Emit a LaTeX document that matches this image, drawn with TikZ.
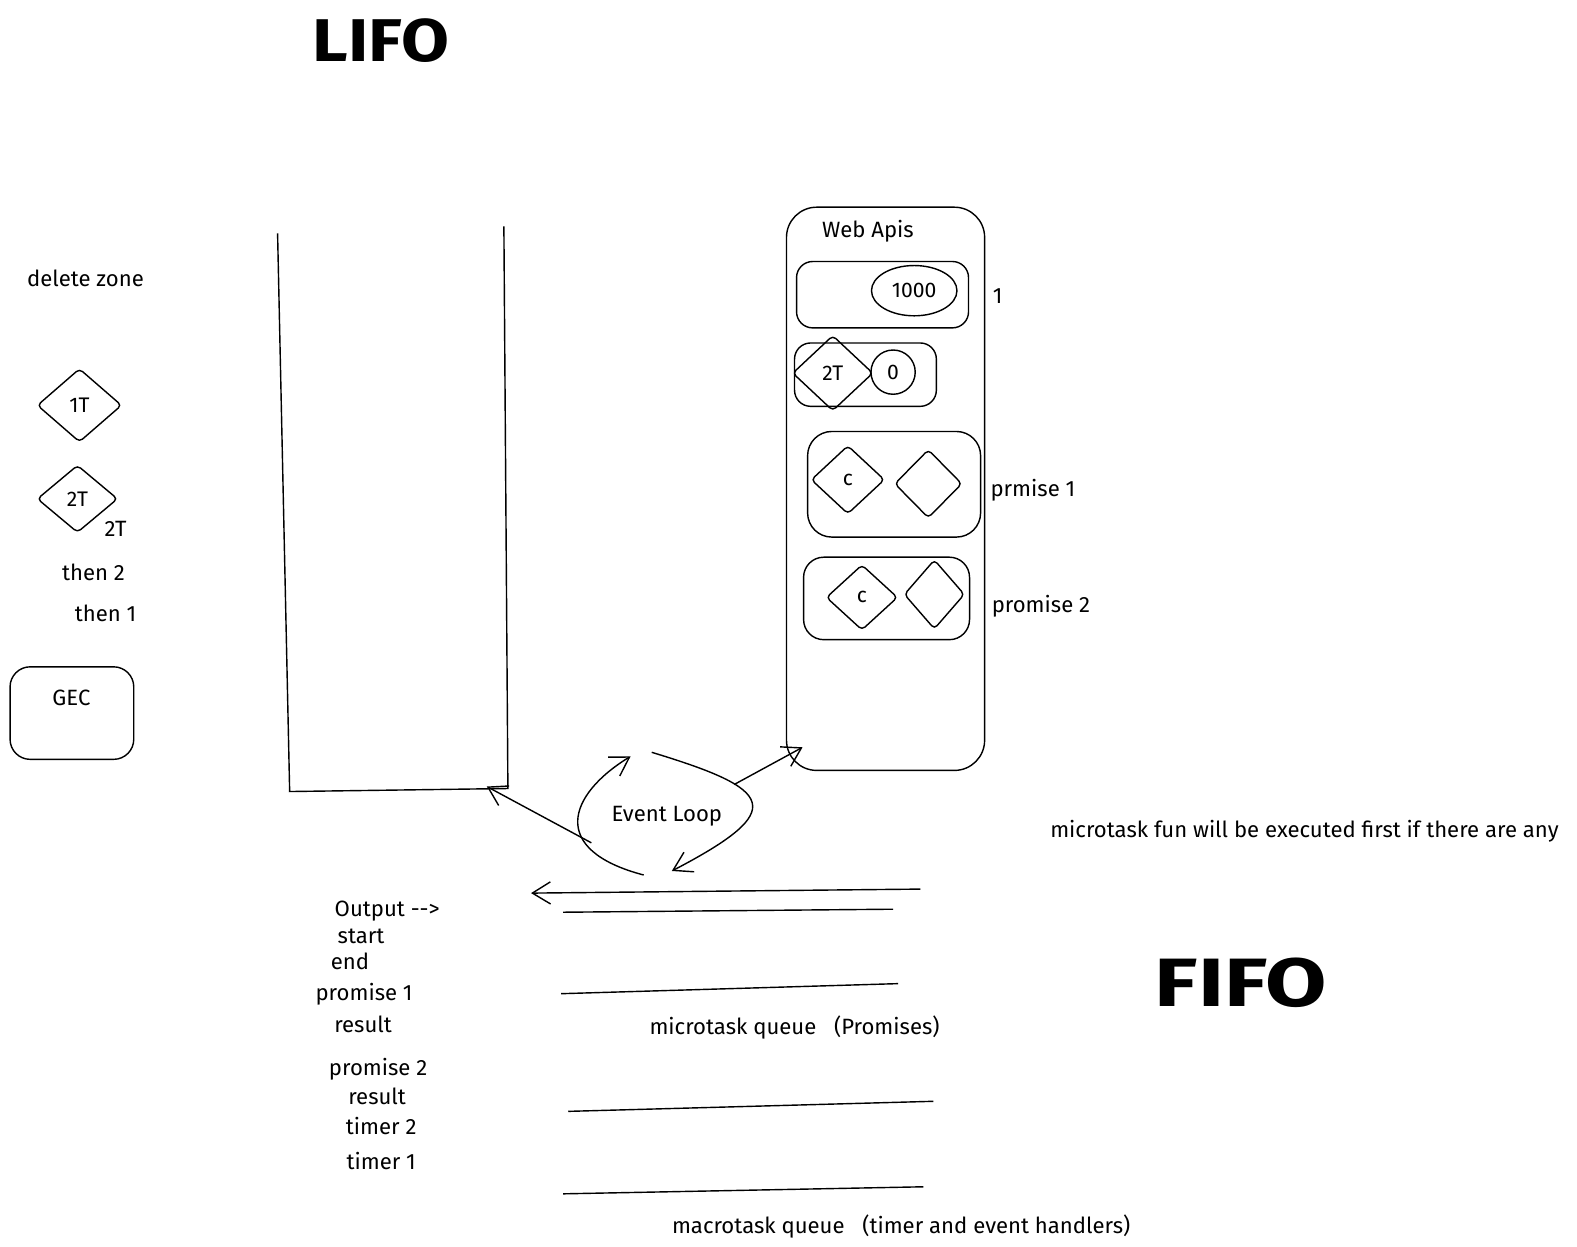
\documentclass[tikz,border=0pt]{standalone}
\usepackage{fontspec}
\setmainfont{Fira Sans}
\usetikzlibrary{arrows.meta, positioning, shapes.geometric}

\begin{document}
\begin{tikzpicture}[x=0.5pt, y=-0.5pt, line width=0.7pt,
    >={Straight Barb[length=9pt, width=11pt]},
    box/.style={draw, rounded corners=8pt, inner sep=0pt},
    token/.style={diamond, draw, rounded corners=2pt, inner sep=0pt, font=\fontsize{10.5}{12}\selectfont},
    note/.style={inner sep=1pt, yshift=-1pt, font=\fontsize{11}{13}\selectfont},
    big/.style={inner sep=0pt, font=\fontsize{30}{34}\selectfont\bfseries}
  ]
  \useasboundingbox (0,0) rectangle (1568,1239);

  % Headings
  \node[big] (lifo) at (379,40) {\scalebox{1.15}[1]{LIFO}};
  \node[big, font=\fontsize{34}{38}\selectfont\bfseries] (fifo) at (1234,977) {\scalebox{1.3}[1]{FIFO}};

  % Left column
  \node[note] (delzone) at (85,275) {delete zone};
  \node[token, minimum width=42pt, minimum height=36.5pt] (t1) at (79,403) {1T};
  \node[token, minimum width=40pt, minimum height=33.5pt] (t2) at (77,496) {2T};
  \node[note] (t2b) at (115,524) {2T};
  \node[note] (then2) at (93,567) {then 2};
  \node[note] (then1) at (105,608) {then 1};
  \node[box, rounded corners=10pt, minimum width=61.5pt, minimum height=46pt] (gec) at (71.5,709) {};
  \node[note] (geclbl) at (71,692) {GEC};

  % Call stack
  \coordinate (stTL) at (276,232);
  \coordinate (stBL) at (288,787);
  \coordinate (stBR) at (505,784);
  \coordinate (stTR) at (501,225);
  \coordinate (stIn) at (484,782);
  \draw (stTL) -- (stBL) -- (stBR) -- (stTR);

  % Web Apis
  \node[box, rounded corners=15pt, minimum width=98.5pt, minimum height=280pt] (webapis) at (880.5,486) {};
  \node[note] (webapislbl) at (863,228) {Web Apis};
  \coordinate (apiIn) at (798,743);

  \node[box, minimum width=85.5pt, minimum height=33pt] (timer1) at (877.5,293) {};
  \node[ellipse, draw, minimum width=42.5pt, minimum height=25pt, inner sep=0pt, font=\fontsize{10.5}{12}\selectfont] (ms) at (909,289) {1000};
  \node[note] (one) at (992,292) {1};

  \node[box, minimum width=70.5pt, minimum height=31.5pt] (timer2) at (860.5,372.5) {};
  \node[token, minimum width=40pt, minimum height=37.5pt] (t2w) at (828,371) {2T};
  \node[circle, draw, minimum size=22pt, inner sep=0pt, font=\fontsize{10.5}{12}\selectfont] (zero) at (888,370) {0};

  \node[box, rounded corners=12pt, minimum width=86pt, minimum height=52.5pt] (prom1) at (889,481.5) {};
  \node[token, minimum width=36.5pt, minimum height=34pt] (c1) at (843,477) {c};
  \node[token, minimum width=33.5pt, minimum height=34pt] (e1) at (923,481) {};
  \node[note] (prom1lbl) at (1027,485) {prmise 1};

  \node[box, rounded corners=10pt, minimum width=82.5pt, minimum height=41pt] (prom2) at (881.5,595) {};
  \node[token, minimum width=35.5pt, minimum height=32.5pt] (c2) at (857,594) {c};
  \node[token, minimum width=30pt, minimum height=34.5pt] (e2) at (929,591) {};
  \node[note] (prom2lbl) at (1035,601) {promise 2};

  % Event loop
  \node[note] (loop) at (663,810) {Event Loop};
  \coordinate (elA) at (640,870);
  \coordinate (elB) at (627,752);
  \coordinate (elC) at (648,748);
  \coordinate (elD) at (668,866);
  \coordinate (elE) at (588,838);
  \coordinate (elF) at (730,780);
  \draw[->] (elA) .. controls (545,845) and (565,790) .. (elB);
  \draw[->] (elC) .. controls (770,785) and (785,805) .. (elD);
  \draw[->] (elE) -- (stIn);
  \draw[->] (elF) -- (apiIn);

  % Queues
  \coordinate (mqA) at (915,884);
  \coordinate (mqB) at (528,888);
  \coordinate (mqC) at (560,907);
  \coordinate (mqD) at (888,904);
  \coordinate (mqE) at (558,988);
  \coordinate (mqF) at (893,978);
  \draw[->] (mqA) -- (mqB);
  \draw (mqC) -- (mqD);
  \draw (mqE) -- (mqF);
  \node[note] (mqlbl) at (790,1020) {microtask queue\hspace{0.8em}(Promises)};

  \coordinate (xqA) at (565,1105);
  \coordinate (xqB) at (928,1095);
  \coordinate (xqC) at (560,1187);
  \coordinate (xqD) at (918,1180);
  \draw (xqA) -- (xqB);
  \draw (xqC) -- (xqD);
  \node[note] (xqlbl) at (896,1217) {macrotask queue\hspace{0.8em}(timer and event handlers)};

  \node[note] (rule) at (1297,824) {microtask fun will be executed first if there are any};

  % Output
  \node[note] (out) at (385,904) {Output -{}->};
  \node[note] (o1) at (359,929) {start};
  \node[note] (o2) at (348,954) {end};
  \node[note] (o3) at (362,987) {promise 1};
  \node[note] (o4) at (361,1016) {result};
  \node[note] (o5) at (376,1061) {promise 2};
  \node[note] (o6) at (375,1088) {result};
  \node[note] (o7) at (379,1118) {timer 2};
  \node[note] (o8) at (379,1152) {timer 1};

\end{tikzpicture}
\end{document}
